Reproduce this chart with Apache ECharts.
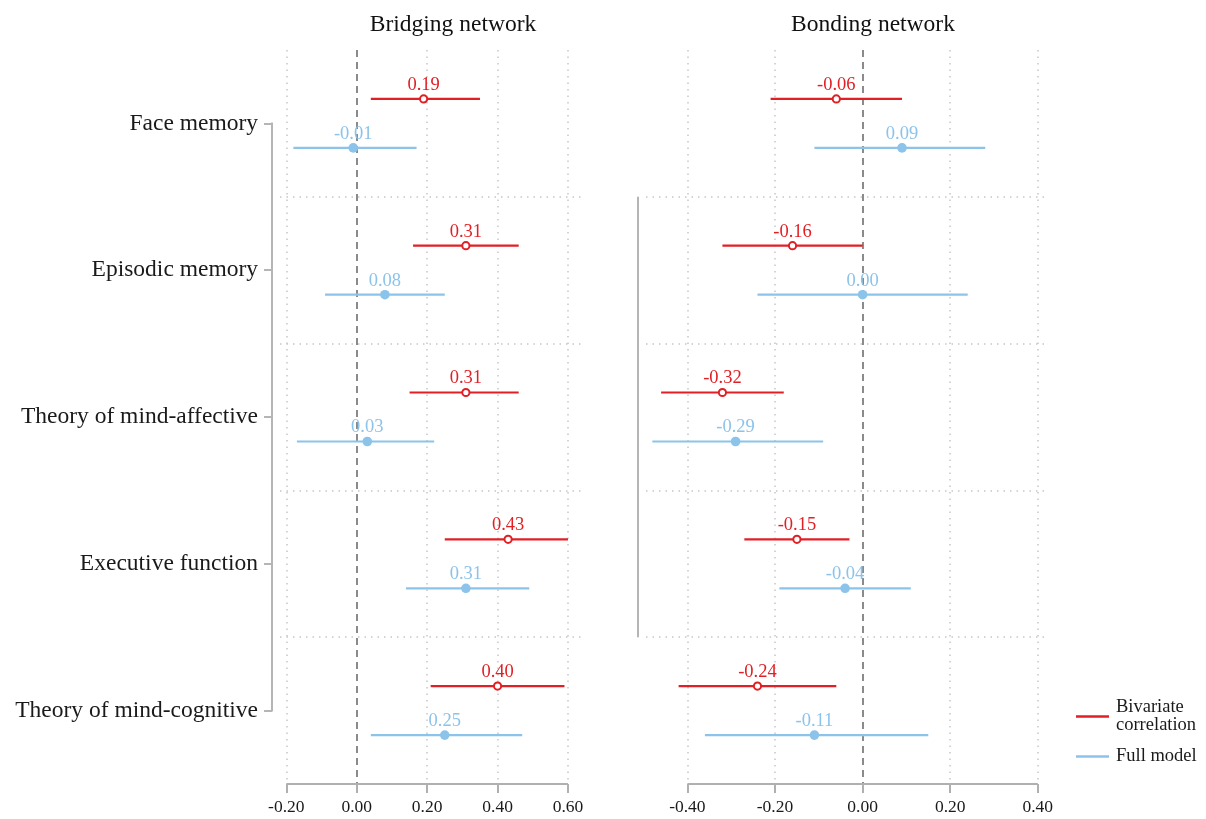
<!DOCTYPE html>
<html>
<head>
<meta charset="utf-8">
<script src="https://cdn.jsdelivr.net/npm/echarts@6.0.0/dist/echarts.min.js"></script>
<style>
html,body{margin:0;padding:0;background:#fff;}
#chart{width:1206px;height:819px;}
</style>
</head>
<body>
<div id="chart"></div>
<script>
// ---- data ----
const categories = ['Face memory', 'Episodic memory', 'Theory of mind-affective', 'Executive function', 'Theory of mind-cognitive'];
const panelTitles = ['Bridging network', 'Bonding network'];
const seriesNames = ['Bivariate\ncorrelation', 'Full model'];

const bridgingBivEst = [0.19, 0.31, 0.31, 0.43, 0.40];
const bridgingBivLo  = [0.04, 0.16, 0.15, 0.25, 0.21];
const bridgingBivHi  = [0.35, 0.46, 0.46, 0.60, 0.59];
const bridgingFullEst = [-0.01, 0.08, 0.03, 0.31, 0.25];
const bridgingFullLo  = [-0.18, -0.09, -0.17, 0.14, 0.04];
const bridgingFullHi  = [0.17, 0.25, 0.22, 0.49, 0.47];

const bondingBivEst = [-0.06, -0.16, -0.32, -0.15, -0.24];
const bondingBivLo  = [-0.21, -0.32, -0.46, -0.27, -0.42];
const bondingBivHi  = [0.09, 0.00, -0.18, -0.03, -0.06];
const bondingFullEst = [0.09, 0.00, -0.29, -0.04, -0.11];
const bondingFullLo  = [-0.11, -0.24, -0.48, -0.19, -0.36];
const bondingFullHi  = [0.28, 0.24, -0.09, 0.11, 0.15];

const bridgingTicks = [-0.2, 0, 0.2, 0.4, 0.6];
const bondingTicks = [-0.4, -0.2, 0, 0.2, 0.4];

// ---- style / layout ----
const RED = '#e11f24';
const BLUE = '#8cc3ea';
const FONT = '"Liberation Serif", "DejaVu Serif", serif';
const ROW_OFFSET = 0.167;
const xRange = [[-0.218, 0.637], [-0.4945, 0.421]];
const dotted = {color: '#c6c6c6', width: 1.5, type: [1.5, 5]};

function rows(lo, hi, est, off) {
  return categories.map((c, i) => [lo[i], hi[i], est[i], i + off]);
}

function makeRender(color, hollow) {
  return function (params, api) {
    const y = api.value(3);
    const a = api.coord([api.value(0), y]);
    const b = api.coord([api.value(1), y]);
    const c = api.coord([api.value(2), y]);
    return {
      type: 'group',
      children: [
        {type: 'line', shape: {x1: a[0], y1: a[1], x2: b[0], y2: b[1]}, style: {stroke: color, lineWidth: 2.2}},
        hollow
          ? {type: 'circle', shape: {cx: c[0], cy: c[1], r: 3.6}, style: {fill: '#fff', stroke: color, lineWidth: 2}}
          : {type: 'circle', shape: {cx: c[0], cy: c[1], r: 4.8}, style: {fill: color}},
        {type: 'text', x: c[0], y: c[1] - 14, style: {text: api.value(2).toFixed(2), fill: color, font: '18.5px ' + FONT, align: 'center', verticalAlign: 'middle'}}
      ]
    };
  };
}

function decoSeries(idx, ticks) {
  const lines = [];
  ticks.forEach(v => { if (v !== 0) lines.push({xAxis: v, lineStyle: dotted}); });
  [0.5, 1.5, 2.5, 3.5].forEach(v => lines.push({yAxis: v, lineStyle: dotted}));
  lines.push({xAxis: 0, lineStyle: {color: '#6e6e6e', width: 1.6, type: [7, 5]}});
  lines.push([{coord: [ticks[0], 4.5]}, {coord: [ticks[ticks.length - 1], 4.5], lineStyle: {color: '#b0b0b0', width: 2, type: 'solid'}}]);
  return {
    type: 'line', xAxisIndex: idx, yAxisIndex: idx, data: [], silent: true,
    markLine: {silent: true, symbol: 'none', label: {show: false}, animation: false, data: lines}
  };
}

function xAxis(idx, ticks) {
  return {
    gridIndex: idx, type: 'value', min: xRange[idx][0], max: xRange[idx][1], position: 'bottom',
    axisLine: {show: false, onZero: false}, splitLine: {show: false},
    axisTick: {show: true, customValues: ticks, length: 9, lineStyle: {color: '#b0b0b0', width: 2}},
    axisLabel: {customValues: ticks, formatter: v => v.toFixed(2), margin: 14, color: '#1a1a1a', fontFamily: FONT, fontSize: 17.5}
  };
}

function yAxis(idx) {
  return {
    gridIndex: idx, type: 'value', min: -0.5, max: 4.5, inverse: true, offset: 8, position: 'left',
    axisLine: {show: false, onZero: false}, splitLine: {show: false},
    axisTick: {show: idx === 0, customValues: [0, 1, 2, 3, 4], length: 8, lineStyle: {color: '#b5b5b5', width: 2}},
    axisLabel: {show: idx === 0, customValues: [0, 1, 2, 3, 4], formatter: v => categories[Math.round(v)], margin: 14, color: '#1a1a1a', fontFamily: FONT, fontSize: 23.5}
  };
}

const chart = echarts.init(document.getElementById('chart'), null, {renderer: 'canvas'});
const option = {
  animation: false,
  backgroundColor: '#fff',
  title: [
    {text: panelTitles[0], left: 448, top: 8, textAlign: 'center', textStyle: {fontFamily: FONT, fontWeight: 'normal', fontSize: 23.5, color: '#111'}},
    {text: panelTitles[1], left: 868, top: 8, textAlign: 'center', textStyle: {fontFamily: FONT, fontWeight: 'normal', fontSize: 23.5, color: '#111'}}
  ],
  legend: {
    orient: 'vertical', left: 1071, top: 693, itemWidth: 33, itemHeight: 2.5, itemGap: 12,
    textStyle: {fontFamily: FONT, fontSize: 18.5, color: '#1a1a1a', lineHeight: 18, padding: [0, 0, 0, 2]},
    data: [
      {name: seriesNames[0], icon: 'rect', itemStyle: {color: RED}},
      {name: seriesNames[1], icon: 'rect', itemStyle: {color: BLUE}}
    ]
  },
  grid: [
    {left: 280, top: 50, width: 301, height: 734},
    {left: 646, top: 50, width: 401, height: 734}
  ],
  xAxis: [xAxis(0, bridgingTicks), xAxis(1, bondingTicks)],
  yAxis: [yAxis(0), yAxis(1)],
  series: [
    decoSeries(0, bridgingTicks),
    decoSeries(1, bondingTicks),
    {name: seriesNames[0], type: 'custom', xAxisIndex: 0, yAxisIndex: 0, itemStyle: {color: RED}, renderItem: makeRender(RED, true), data: rows(bridgingBivLo, bridgingBivHi, bridgingBivEst, -ROW_OFFSET), z: 5},
    {name: seriesNames[1], type: 'custom', xAxisIndex: 0, yAxisIndex: 0, itemStyle: {color: BLUE}, renderItem: makeRender(BLUE, false), data: rows(bridgingFullLo, bridgingFullHi, bridgingFullEst, ROW_OFFSET), z: 5},
    {name: seriesNames[0], type: 'custom', xAxisIndex: 1, yAxisIndex: 1, itemStyle: {color: RED}, renderItem: makeRender(RED, true), data: rows(bondingBivLo, bondingBivHi, bondingBivEst, -ROW_OFFSET), z: 5},
    {name: seriesNames[1], type: 'custom', xAxisIndex: 1, yAxisIndex: 1, itemStyle: {color: BLUE}, renderItem: makeRender(BLUE, false), data: rows(bondingFullLo, bondingFullHi, bondingFullEst, ROW_OFFSET), z: 5}
  ]
};
chart.setOption(option);

// axis brackets (y-axis lines), positioned via the library's scales
const bx0 = chart.convertToPixel({xAxisIndex: 0}, xRange[0][0]) - 8;
const by0 = chart.convertToPixel({yAxisIndex: 0}, 0);
const by4 = chart.convertToPixel({yAxisIndex: 0}, 4);
const bx1 = chart.convertToPixel({xAxisIndex: 1}, xRange[1][0]) - 8;
const cy0 = chart.convertToPixel({yAxisIndex: 1}, 0.5);
const cy1 = chart.convertToPixel({yAxisIndex: 1}, 3.5);
chart.setOption({
  graphic: [
    {type: 'line', shape: {x1: bx0, y1: by0 - 1, x2: bx0, y2: by4 + 1}, style: {stroke: '#b5b5b5', lineWidth: 2}},
    {type: 'line', shape: {x1: bx1, y1: cy0, x2: bx1, y2: cy1}, style: {stroke: '#b5b5b5', lineWidth: 2}}
  ]
});
</script>
</body>
</html>
